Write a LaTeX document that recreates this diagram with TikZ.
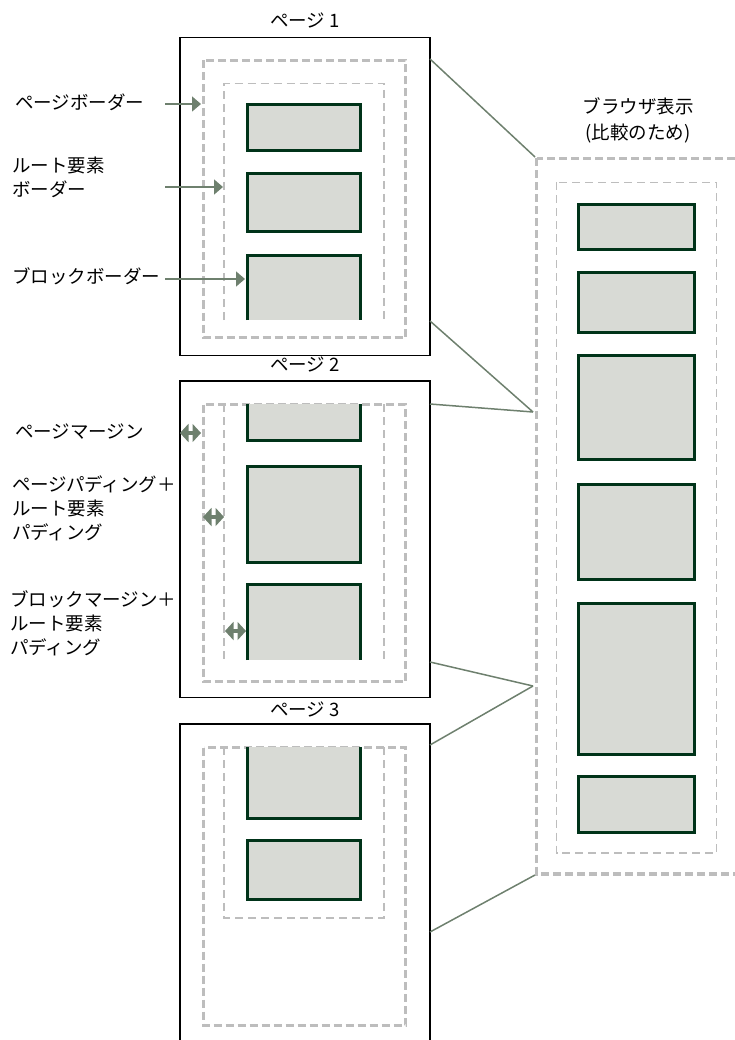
\documentclass[tikz,border=0pt]{standalone}
\usepackage{fontspec}
\setmainfont{Noto Sans CJK JP}
\usetikzlibrary{arrows.meta}
\definecolor{blkcol}{HTML}{003319}
\definecolor{blkfillcol}{HTML}{D8DAD5}
\definecolor{dashcol}{HTML}{BDBDBD}
\definecolor{conncol}{HTML}{6E806E}
\begin{document}
\begin{tikzpicture}[x=1pt,y=-1pt,
  pagebox/.style={draw=black, line width=1.5pt},
  outerdash/.style={draw=dashcol, line width=3.2pt, dash pattern=on 8pt off 4pt},
  innerdash/.style={draw=dashcol, line width=1.6pt, dash pattern=on 8pt off 5pt},
  blockline/.style={draw=blkcol, line width=3pt},
  connline/.style={draw=conncol, line width=1.5pt},
  pointer/.style={draw=conncol, fill=conncol, line width=1.5pt, -{Triangle[length=9pt,width=15pt]}},
  dbl/.style={draw=conncol, fill=conncol, line width=4pt, {Triangle[length=8.5pt,width=18pt]}-{Triangle[length=8.5pt,width=18pt]}},
  lbl/.style={font=\fontsize{18.5}{24}\selectfont, align=left, inner sep=0pt, anchor=west},
  ttl/.style={font=\fontsize{18.5}{26}\selectfont, inner sep=0pt, align=center}]
\useasboundingbox (0,0) rectangle (735,1040);
\clip (0,0) rectangle (735,1040);

% ---------- Page 1 ----------
\node[ttl] (t1) at (305,20) {ページ 1};
\draw[pagebox] (179.75,37.75) rectangle (429.75,355.25);
\draw[outerdash] (203.5,60.5) rectangle (405.5,337.5);
\draw[innerdash] (224,320) -- (224,83.5) -- (384,83.5) -- (384,320);
\fill[blkfillcol] (247,105) rectangle (360,151);
\draw[blockline] (247,105) rectangle (360,151);
\fill[blkfillcol] (247,174) rectangle (360,232);
\draw[blockline] (247,174) rectangle (360,232);
\fill[blkfillcol] (247,256) rectangle (360,320);
\draw[blockline] (247,320) -- (247,256) -- (360,256) -- (360,320);

% ---------- Page 2 ----------
\node[ttl] (t2) at (305,364) {ページ 2};
\draw[pagebox] (179.75,380.75) rectangle (429.75,697.25);
\draw[outerdash] (203.5,404.5) rectangle (405.5,681.5);
\draw[innerdash] (224,404) -- (224,662);
\draw[innerdash] (384,404) -- (384,662);
\fill[blkfillcol] (247,404) rectangle (360,440);
\draw[blockline] (247,404) -- (247,440) -- (360,440) -- (360,404);
\fill[blkfillcol] (247,466) rectangle (360,562);
\draw[blockline] (247,466) rectangle (360,562);
\fill[blkfillcol] (247,584) rectangle (360,660);
\draw[blockline] (247,660) -- (247,584) -- (360,584) -- (360,660);

% ---------- Page 3 ----------
\node[ttl] (t3) at (305,709) {ページ 3};
\draw[pagebox] (179.75,723.75) rectangle (429.75,1060);
\draw[outerdash] (203.5,747.5) rectangle (405.5,1025.5);
\draw[innerdash] (224,747) -- (224,918) -- (384,918) -- (384,747);
\fill[blkfillcol] (247,747) rectangle (360,818);
\draw[blockline] (247,747) -- (247,818) -- (360,818) -- (360,747);
\fill[blkfillcol] (247,840) rectangle (360,899);
\draw[blockline] (247,840) rectangle (360,899);

% ---------- Browser ----------
\node[ttl] (bt) at (638,120) {ブラウザ表示\\(比較のため)};
\draw[outerdash] (536.5,158.5) rectangle (760,874);
\draw[innerdash] (556.5,182.5) rectangle (716.5,853);
\foreach \ya/\yb in {205/250, 273/332, 355/459, 484/579, 603/754, 776/832}{
  \fill[blkfillcol] (578,\ya) rectangle (694,\yb);
  \draw[blockline] (578,\ya) rectangle (694,\yb);
}

% ---------- Connectors ----------
\coordinate (p1a) at (430,59);
\coordinate (p1b) at (430,321);
\coordinate (p2a) at (430,404);
\coordinate (p2b) at (430,662);
\coordinate (p3a) at (430,745);
\coordinate (p3b) at (430,932);
\coordinate (br1) at (535,157);
\coordinate (br2) at (533,412);
\coordinate (br3) at (533,686);
\coordinate (br4) at (535,875);
\draw[connline] (p1a) -- (br1);
\draw[connline] (p1b) -- (br2);
\draw[connline] (p2a) -- (br2);
\draw[connline] (p2b) -- (br3);
\draw[connline] (p3a) -- (br3);
\draw[connline] (p3b) -- (br4);

% ---------- Labels ----------
\node[lbl] (l1) at (15,102) {ページボーダー};
\node[lbl] (l2) at (12,177) {ルート要素\\ボーダー};
\node[lbl] (l3) at (12,276) {ブロックボーダー};
\node[lbl] (l4) at (15,432) {ページマージン};
\node[lbl] (l5) at (12,508) {ページパディング＋\\ルート要素\\パディング};
\node[lbl] (l6) at (10,623) {ブロックマージン＋\\ルート要素\\パディング};

\coordinate (a1s) at (165,104);
\coordinate (a1e) at (201,104);
\coordinate (a2s) at (165,187);
\coordinate (a2e) at (223,187);
\coordinate (a3s) at (165,279);
\coordinate (a3e) at (245,279);
\draw[pointer] (a1s) -- (a1e);
\draw[pointer] (a2s) -- (a2e);
\draw[pointer] (a3s) -- (a3e);

\coordinate (d1s) at (180,433);
\coordinate (d1e) at (201,433);
\coordinate (d2s) at (203,517);
\coordinate (d2e) at (224,517);
\coordinate (d3s) at (225,631);
\coordinate (d3e) at (246,631);
\draw[dbl] (d1s) -- (d1e);
\draw[dbl] (d2s) -- (d2e);
\draw[dbl] (d3s) -- (d3e);
\end{tikzpicture}
\end{document}
